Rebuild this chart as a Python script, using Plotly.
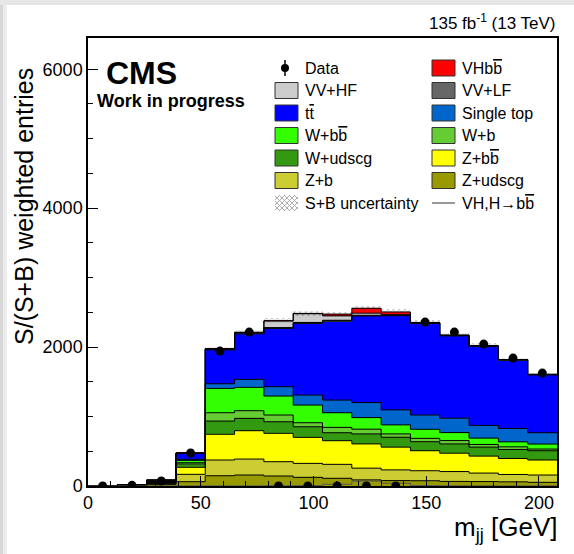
import numpy as np
import plotly.graph_objects as go

# ---------------- data ----------------
edges = [0, 13, 26, 39, 52, 65, 78, 91, 104, 117, 130, 143, 156, 169, 182, 195, 208]

z_udscg    = [1, 5, 20, 62, 148, 158, 144, 125, 111, 88, 78, 76, 66, 64, 60, 53]
z_b        = [0, 3, 15, 106, 226, 230, 206, 201, 201, 169, 154, 144, 142, 122, 106, 105]
z_bb       = [0, 2, 12, 101, 370, 408, 408, 374, 340, 349, 327, 288, 264, 244, 230, 216]
w_udscg    = [0, 1, 6, 47, 191, 178, 167, 153, 115, 144, 143, 130, 134, 130, 130, 134]
w_b        = [0, 0, 3, 19, 120, 110, 97, 58, 77, 68, 48, 48, 48, 38, 38, 24]
w_bb       = [0, 1, 5, 35, 350, 336, 273, 254, 211, 167, 130, 130, 115, 91, 72, 72]
single_top = [0, 0, 3, 14, 67, 115, 135, 144, 182, 216, 216, 206, 207, 183, 192, 163]
ttbar      = [1, 4, 20, 86, 488, 655, 839, 1032, 1137, 1247, 1356, 1318, 1186, 1137, 985, 833]
vv_lf      = [0, 0, 1, 2, 8, 10, 12, 14, 12, 10, 6, 5, 5, 4, 3, 3]
vv_hf      = [0, 0, 1, 3, 7, 11, 95, 125, 64, 30, 8, 5, 4, 6, 4, 4]
vhbb       = [0, 0, 0, 1, 2, 2, 3, 5, 25, 71, 40, 5, 2, 2, 1, 1]

data_vals  = [0, 10, 72, 475, 1942, 2216, 0, 0, 0, 0, 0, 2360, 2216, 2043, 1842, 1626]
data_errs  = [0, 3, 8, 22, 44, 47, 0, 0, 0, 0, 0, 49, 47, 45, 43, 40]
sb_unc     = [0, 1, 3, 10, 30, 33, 36, 37, 37, 38, 37, 35, 33, 31, 28, 25]

OV = "<span style='text-decoration:overline'>{}</span>"
components = [
    ("Z+udscg", z_udscg, "#999900"),
    ("Z+b", z_b, "#cccc33"),
    ("Z+b" + OV.format("b"), z_bb, "#ffff00"),
    ("W+udscg", w_udscg, "#339911"),
    ("W+b", w_b, "#66cc33"),
    ("W+b" + OV.format("b"), w_bb, "#33ff00"),
    ("Single top", single_top, "#0066cc"),
    ("t" + OV.format("t"), ttbar, "#0000ff"),
    ("VV+LF", vv_lf, "#666666"),
    ("VV+HF", vv_hf, "#cccccc"),
    ("VHb" + OV.format("b"), vhbb, "#ff0000"),
]

# ---------------- geometry ----------------
W_FIG, H_FIG = 574, 554
L, R, T, B = 88, 557, 38, 486
PW, PH = R - L, B - T
XMAX, YMAX = 208, 6450

def pp(px, py):
    return (px - L) / PW, (B - py) / PH

edges_a = np.array(edges, dtype=float)
centers = (edges_a[:-1] + edges_a[1:]) / 2
widths = np.diff(edges_a)

fig = go.Figure()

base = np.zeros(len(centers))
tops = []
for name, vals, col in components:
    v = np.array(vals, dtype=float)
    fig.add_trace(go.Bar(x=centers, y=v, base=base.copy(), width=widths,
                         marker=dict(color=col, line=dict(width=0)),
                         opacity=1, showlegend=False, name=name,
                         hoverinfo="skip"))
    base = base + v
    tops.append(base.copy())

total = base.copy()

# outlines of each stacked layer (ROOT-like steps)
for cum in tops:
    xs = [edges[0]] + list(edges)
    ys = [0] + list(cum) + [cum[-1]]
    fig.add_trace(go.Scatter(x=xs, y=ys, mode="lines", line_shape="hv",
                             line=dict(color="black", width=1),
                             showlegend=False, hoverinfo="skip"))

# S+B uncertainty (hatched)
u = np.array(sb_unc, dtype=float)
fig.add_trace(go.Bar(x=centers, y=2 * u, base=total - u, width=widths,
                     marker=dict(color="rgba(0,0,0,0)", line=dict(width=0),
                                 pattern=dict(shape="x", fgcolor="#555555",
                                              bgcolor="rgba(0,0,0,0)",
                                              size=4, solidity=0.3)),
                     showlegend=False, hoverinfo="skip"))

# signal line VH, H->bb
sig = np.array(vhbb, dtype=float)
fig.add_trace(go.Scatter(x=list(edges), y=list(sig) + [sig[-1]], mode="lines",
                         line_shape="hv", line=dict(color="#555555", width=1),
                         showlegend=False, hoverinfo="skip"))

# data
fig.add_trace(go.Scatter(x=centers, y=data_vals, mode="markers",
                         marker=dict(color="black", size=9, symbol="circle"),
                         error_y=dict(type="data", array=data_errs, visible=True,
                                      color="black", thickness=1.5, width=0),
                         showlegend=False, hoverinfo="skip"))

FONT = "Liberation Sans, Arial, Helvetica, sans-serif"
annotations = []
shapes = []

def add_text(px, py, text, size, xanchor="left", bold=False, angle=0):
    x, y = pp(px, py)
    annotations.append(dict(x=x, y=y, xref="paper", yref="paper", text=text,
                            showarrow=False, xanchor=xanchor, yanchor="middle",
                            textangle=angle,
                            font=dict(family=FONT, size=size, color="black",
                                      weight="bold" if bold else "normal")))

add_text(104, 73, "CMS", 32, bold=True)
add_text(95, 101, "Work in progress", 18, bold=True)
add_text(558, 22, "135 fb<sup>-1</sup> (13 TeV)", 17, xanchor="right")
add_text(559, 528, "m<sub>jj</sub> [GeV]", 26, xanchor="right")
add_text(24, 207, "S/(S+B) weighted entries", 25, xanchor="center", angle=-90)

# ---------------- legend (two columns) ----------------
colmap = {n: c for n, _, c in components}
legend_items = [
    ("Data", "data", None),
    ("VHb" + OV.format("b"), "box", colmap["VHb" + OV.format("b")]),
    ("VV+HF", "box", colmap["VV+HF"]),
    ("VV+LF", "box", colmap["VV+LF"]),
    ("t" + OV.format("t"), "box", colmap["t" + OV.format("t")]),
    ("Single top", "box", colmap["Single top"]),
    ("W+b" + OV.format("b"), "box", colmap["W+b" + OV.format("b")]),
    ("W+b", "box", colmap["W+b"]),
    ("W+udscg", "box", colmap["W+udscg"]),
    ("Z+b" + OV.format("b"), "box", colmap["Z+b" + OV.format("b")]),
    ("Z+b", "box", colmap["Z+b"]),
    ("Z+udscg", "box", colmap["Z+udscg"]),
    ("S+B uncertainty", "hatch", None),
    ("VH,H\u2192b" + OV.format("b"), "line", "#555555"),
]
col_box_x = [275, 432]
row_y0, row_dy = 68, 22.5
bw, bh = 23, 16

def rect(px0, py0, px1, py1, fill, line_color="#333333", lw=1):
    x0, y0 = pp(px0, py1)
    x1, y1 = pp(px1, py0)
    shapes.append(dict(type="rect", xref="paper", yref="paper", x0=x0, y0=y0,
                       x1=x1, y1=y1, fillcolor=fill,
                       line=dict(color=line_color, width=lw)))

def seg(px0, py0, px1, py1, color, lw):
    x0, y0 = pp(px0, py0)
    x1, y1 = pp(px1, py1)
    shapes.append(dict(type="line", xref="paper", yref="paper", x0=x0, y0=y0,
                       x1=x1, y1=y1, line=dict(color=color, width=lw)))

for i, (label, kind, col) in enumerate(legend_items):
    r, c = divmod(i, 2)
    yc = row_y0 + r * row_dy
    bx = col_box_x[c]
    if kind == "box":
        rect(bx, yc - bh / 2, bx + bw, yc + bh / 2, col)
    elif kind == "data":
        cx = bx + 10
        seg(cx, yc - 8, cx, yc + 8, "black", 1.5)
        x0, y0 = pp(cx - 4, yc + 4)
        x1, y1 = pp(cx + 4, yc - 4)
        shapes.append(dict(type="circle", xref="paper", yref="paper", x0=x0, y0=y0,
                           x1=x1, y1=y1, fillcolor="black", line=dict(color="black", width=0)))
    elif kind == "line":
        seg(bx, yc, bx + bw, yc, col, 1.2)
    elif kind == "hatch":
        w, h = bw, bh
        top = yc - h / 2
        for d in np.arange(-h, w + 0.1, 5):
            u1, u2 = max(0, d), min(w, h + d)
            if u2 > u1:
                seg(bx + u1, top + u1 - d, bx + u2, top + u2 - d, "#999999", 0.8)
        for d in np.arange(0, w + h + 0.1, 5):
            u1, u2 = max(0, d - h), min(w, d)
            if u2 > u1:
                seg(bx + u1, top + d - u1, bx + u2, top + d - u2, "#999999", 0.8)
    add_text(bx + bw + 5, yc, label, 16)

# screenshot-like grey border on left and top
shapes.append(dict(type="rect", xref="paper", yref="paper",
                   x0=pp(0, 0)[0], x1=pp(3, 0)[0], y0=pp(0, H_FIG)[1], y1=pp(0, 0)[1],
                   fillcolor="#d8d8d8", line=dict(width=0), layer="below"))
shapes.append(dict(type="rect", xref="paper", yref="paper",
                   x0=pp(3, 0)[0], x1=pp(7, 0)[0], y0=pp(0, H_FIG)[1], y1=pp(0, 0)[1],
                   fillcolor="#ececec", line=dict(width=0), layer="below"))
shapes.append(dict(type="rect", xref="paper", yref="paper",
                   x0=pp(0, 0)[0], x1=pp(W_FIG, 0)[0], y0=pp(0, 5)[1], y1=pp(0, 0)[1],
                   fillcolor="#e6e6e6", line=dict(width=0), layer="below"))

axis_common = dict(showline=True, mirror=True, linecolor="black", linewidth=1.5,
                   showgrid=False, zeroline=False, ticks="inside", tickcolor="black",
                   ticklen=10, tickwidth=1,
                   tickfont=dict(family=FONT, size=18, color="black"))

fig.update_layout(
    width=W_FIG, height=H_FIG, autosize=False,
    margin=dict(l=L, r=W_FIG - R, t=T, b=H_FIG - B),
    paper_bgcolor="white", plot_bgcolor="white",
    barmode="overlay", bargap=0,
    showlegend=False,
    annotations=annotations, shapes=shapes,
    xaxis=dict(range=[0, XMAX], tickvals=[0, 50, 100, 150, 200],
               minor=dict(dtick=10, tick0=0, ticks="inside", ticklen=5,
                          tickcolor="black", tickwidth=1),
               **axis_common),
    yaxis=dict(range=[0, YMAX], tickvals=[0, 2000, 4000, 6000],
               minor=dict(dtick=500, tick0=0, ticks="inside", ticklen=5,
                          tickcolor="black", tickwidth=1),
               **axis_common),
)

fig.write_html("out.html")
